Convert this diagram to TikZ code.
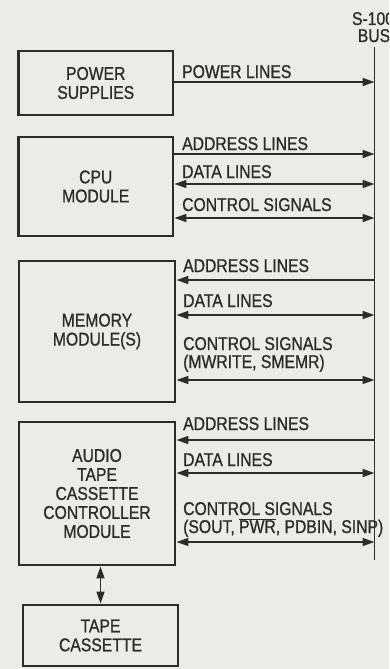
\documentclass[tikz,border=0pt]{standalone}
\usepackage{fontspec}
\setmainfont{Liberation Sans}[FakeStretch=0.85, FakeBold=1.0]
\usetikzlibrary{arrows.meta}
\definecolor{paper}{HTML}{EBEBE7}
\definecolor{ink}{HTML}{2C2C2C}
\tikzset{
  txt/.style={text=ink, font=\fontsize{18.5}{19}\selectfont},
  unitbox/.style={txt, draw=ink, line width=2.9pt, fill=none, align=center, inner sep=0pt},
  lbl/.style={txt, anchor=base west, inner sep=0pt},
  sig/.style={draw=ink, line width=1.6pt},
  tip/.tip={Triangle[length=12pt, width=8pt]},
  toBus/.style={sig, -tip},
  fromBus/.style={sig, tip-},
  both/.style={sig, tip-tip},
  buslbl/.style={txt, anchor=base, inner sep=0pt},
}
\begin{document}
\begin{tikzpicture}[x=1pt, y=-1pt]
  \path[fill=paper] (0,0) rectangle (389,669);
  \useasboundingbox (0,0) rectangle (389,669);
  \begin{scope}
    \clip (0,0) rectangle (389,669);

    % bus heading and backbone
    \node[buslbl] (s100) at (373,25) {S-100};
    \node[buslbl] (bus) at (374,42) {BUS};
    \coordinate (bustop) at (374.5,47);
    \coordinate (busbot) at (374.5,560);
    \draw[ink, line width=1.7pt] (bustop) -- (busbot);

    % functional units
    \node[unitbox, minimum width=154.5pt, minimum height=64pt] (ps) at (95.75,83) {POWER\\SUPPLIES};
    \node[unitbox, minimum width=154.5pt, minimum height=99pt] (cpu) at (95.75,186.5) {CPU\\MODULE};
    \node[unitbox, minimum width=156pt, minimum height=141pt] (mem) at (97,331.5) {MEMORY\\MODULE(S)};
    \node[unitbox, minimum width=156pt, minimum height=143pt] (act) at (97,493.5) {AUDIO\\TAPE\\CASSETTE\\CONTROLLER\\MODULE};
    \node[unitbox, minimum width=155pt, minimum height=61pt] (tape) at (100.5,635.5) {TAPE\\CASSETTE};

    % attachment points on the bus
    \coordinate (b1) at (374.5,82);
    \coordinate (b2) at (374.5,154);
    \coordinate (b3) at (374.5,184);
    \coordinate (b4) at (374.5,218);
    \coordinate (b5) at (374.5,280);
    \coordinate (b6) at (374.5,315);
    \coordinate (b7) at (374.5,380);
    \coordinate (b8) at (374.5,440);
    \coordinate (b9) at (374.5,473);
    \coordinate (b10) at (374.5,542);

    % power supplies
    \draw[toBus] (ps.east |- b1) -- (b1);
    \node[lbl] (l1) at (182,78) {POWER LINES};

    % CPU
    \draw[toBus] (cpu.east |- b2) -- (b2);
    \draw[both] (cpu.east |- b3) -- (b3);
    \draw[both] (cpu.east |- b4) -- (b4);
    \node[lbl] (l2) at (182,150) {ADDRESS LINES};
    \node[lbl] (l3) at (182,178) {DATA LINES};
    \node[lbl] (l4) at (182,211) {CONTROL SIGNALS};

    % memory
    \draw[fromBus] (mem.east |- b5) -- (b5);
    \draw[both] (mem.east |- b6) -- (b6);
    \draw[both] (mem.east |- b7) -- (b7);
    \node[lbl] (l5) at (183,272) {ADDRESS LINES};
    \node[lbl] (l6) at (183,307) {DATA LINES};
    \node[lbl] (l7) at (183,350) {CONTROL SIGNALS};
    \node[lbl] (l7b) at (183,368) {(MWRITE, SMEMR)};

    % cassette controller
    \draw[fromBus] (act.east |- b8) -- (b8);
    \draw[both] (act.east |- b9) -- (b9);
    \draw[both] (act.east |- b10) -- (b10);
    \node[lbl] (l8) at (183,430) {ADDRESS LINES};
    \node[lbl] (l9) at (183,466) {DATA LINES};
    \node[lbl] (l10) at (183,515) {CONTROL SIGNALS};
    \node[lbl] (l10b) at (183,533) {(SOUT, $\overline{\mbox{PWR}}$, PDBIN, SINP)};

    % controller to tape
    \draw[both] (tape.north) -- (tape.north |- act.south);
  \end{scope}
\end{tikzpicture}
\end{document}
